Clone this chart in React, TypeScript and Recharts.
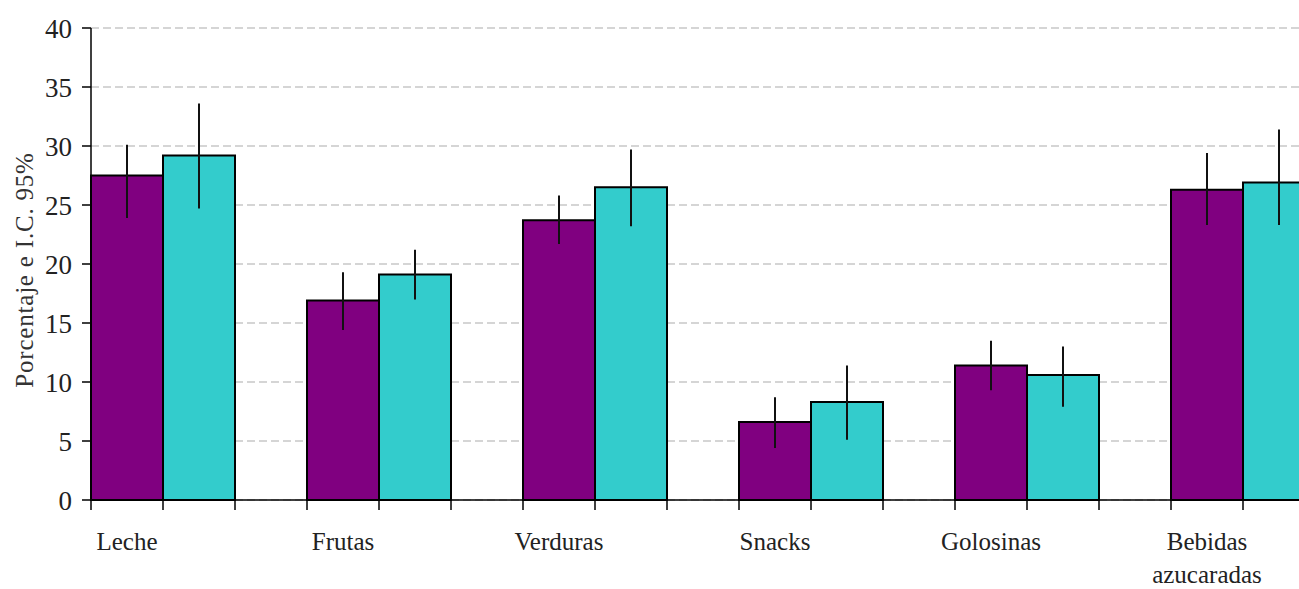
import { BarChart, Bar, XAxis, YAxis, CartesianGrid, ErrorBar } from 'recharts';

const categories = ['Leche', 'Frutas', 'Verduras', 'Snacks', 'Golosinas', 'Bebidas azucaradas'];

const purple = [27.5, 16.9, 23.7, 6.6, 11.4, 26.3];
const purpleLow = [23.9, 14.4, 21.7, 4.4, 9.3, 23.3];
const purpleHigh = [30.1, 19.3, 25.8, 8.7, 13.5, 29.4];

const cyan = [29.2, 19.1, 26.5, 8.3, 10.6, 26.9];
const cyanLow = [24.7, 17.0, 23.2, 5.1, 7.9, 23.3];
const cyanHigh = [33.6, 21.2, 29.7, 11.4, 13.0, 31.4];

const yTicks = [0, 5, 10, 15, 20, 25, 30, 35, 40];

const data = categories.map((name, i) => ({
  name,
  a: purple[i],
  aErr: [purple[i] - purpleLow[i], purpleHigh[i] - purple[i]],
  b: cyan[i],
  bErr: [cyan[i] - cyanLow[i], cyanHigh[i] - cyan[i]],
}));

const FONT = '"Liberation Serif", "DejaVu Serif", serif';

// each category holds 3 slots (purple, cyan, empty); ticks at every slot edge
const CategoryTick = (props: any) => {
  const { x, y, payload } = props;
  const slot = 72;
  const lines = String(payload.value).split(' ');
  return (
    <g>
      {[-1.5, -0.5, 0.5].map((k) => (
        <line key={k} x1={x + k * slot} x2={x + k * slot} y1={y} y2={y + 10} stroke="#000" strokeWidth={1.5} />
      ))}
      <text x={x - slot} y={y + 50} textAnchor="middle" fontSize={25} fontFamily={FONT} fill="#222">
        {lines.map((l, i) => (
          <tspan key={i} x={x - slot} dy={i === 0 ? 0 : 33}>
            {l}
          </tspan>
        ))}
      </text>
    </g>
  );
};

const YLabel = () => (
  <text
    x={24}
    y={270}
    transform="rotate(-90 24 270)"
    textAnchor="middle"
    dominantBaseline="central"
    fontSize={25}
    letterSpacing={0.8}
    fontFamily={FONT}
    fill="#333"
  >
    Porcentaje e I.C. 95%
  </text>
);

export default function App() {
  return (
    <div
      style={{
        position: 'absolute',
        left: 0,
        top: 0,
        width: 1299,
        height: 589,
        overflow: 'hidden',
        background: '#fff',
        fontFamily: FONT,
      }}
    >
      <BarChart
        width={1400}
        height={589}
        data={data}
        margin={{ top: 28, right: 13, left: 0, bottom: 0 }}
        barCategoryGap={0}
        barGap={0}
      >
        <CartesianGrid vertical={false} stroke="#c8c8c8" strokeDasharray="8 4" strokeWidth={1.5} />
        <XAxis
          dataKey="name"
          height={89}
          interval={0}
          tickLine={false}
          tickSize={0}
          tickMargin={0}
          axisLine={{ stroke: '#000', strokeWidth: 1.5 }}
          tick={<CategoryTick />}
        />
        <YAxis
          width={91}
          domain={[0, 40]}
          ticks={yTicks}
          interval={0}
          tickSize={9}
          tickMargin={10}
          axisLine={{ stroke: '#000', strokeWidth: 1.5 }}
          tickLine={{ stroke: '#000', strokeWidth: 1.5 }}
          tick={{ fontSize: 27, fontFamily: FONT, fill: '#222' }}
          label={<YLabel />}
        />
        <Bar dataKey="a" fill="#800080" stroke="#000" strokeWidth={2} isAnimationActive={false}>
          <ErrorBar dataKey="aErr" width={0} stroke="#111" strokeWidth={2} isAnimationActive={false} />
        </Bar>
        <Bar dataKey="b" fill="#33CCCC" stroke="#000" strokeWidth={2} isAnimationActive={false}>
          <ErrorBar dataKey="bErr" width={0} stroke="#111" strokeWidth={2} isAnimationActive={false} />
        </Bar>
        <Bar dataKey="pad" fill="none" isAnimationActive={false} />
      </BarChart>
    </div>
  );
}
